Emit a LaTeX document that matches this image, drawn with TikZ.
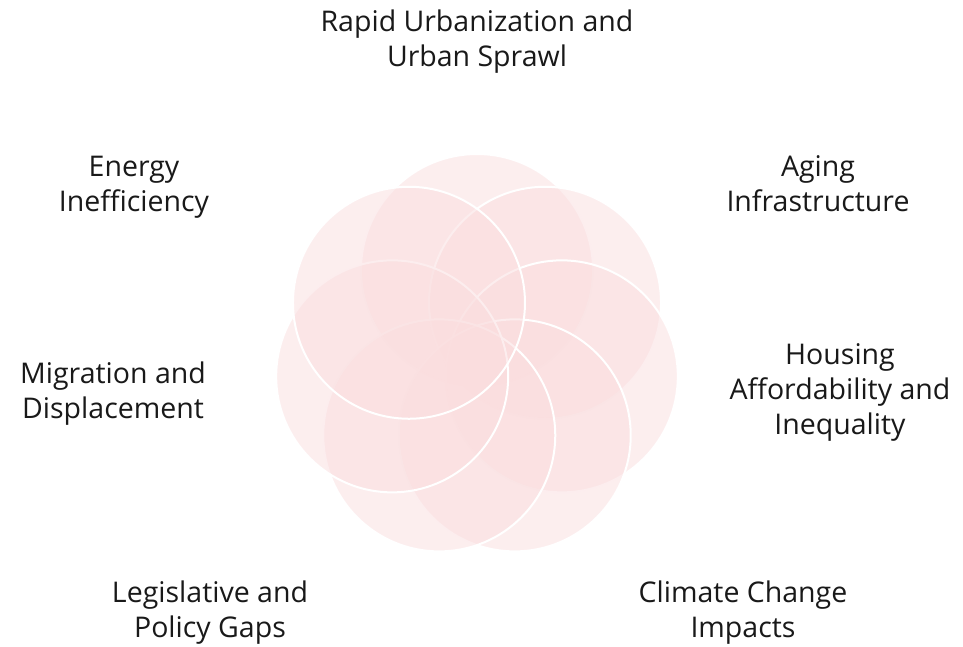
\documentclass[tikz,border=0pt]{standalone}
\usepackage{fontspec}
\setmainfont{Open Sans}
\definecolor{petalpink}{RGB}{250,221,222}

\begin{document}
\begin{tikzpicture}[x=1pt, y=1pt,
    petal/.style={circle, minimum size=232pt, inner sep=0pt, fill=petalpink,
      fill opacity=0.5, draw=white, draw opacity=1, line width=2pt},
    topic/.style={align=center, font=\fontsize{28.5}{35}\selectfont, text=black!90}]

    \useasboundingbox (0,0) rectangle (963,646);
    \coordinate (hub) at (477,289);

    \foreach \a [count=\i] in {90,38.57,-12.86,-64.29,-115.71,-167.14,141.43}
      \node [petal] (petal-\i) at ([shift={(\a:87)}]hub) {};

    \foreach \x/\y/\l [count=\i] in {
        477/604/{Rapid Urbanization and\\Urban Sprawl},
        818/462/{Aging\\Infrastructure},
        840/254/{Housing\\Affordability and\\Inequality},
        743/33/{Climate Change\\Impacts},
        210/33/{Legislative and\\Policy Gaps},
        113/252/{Migration and\\Displacement},
        134/459/{Energy\\Inefficiency}}
      \node [topic] (topic-\i) at (\x,\y) {\l};

\end{tikzpicture}
\end{document}
